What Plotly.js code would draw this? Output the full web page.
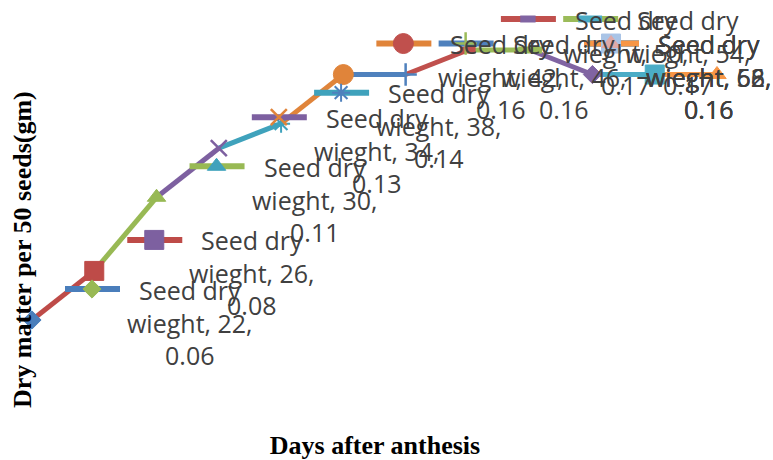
<!DOCTYPE html>
<html><head><meta charset="utf-8">
<script src="https://cdn.plot.ly/plotly-3.0.1.min.js"></script>
<style>html,body{margin:0;padding:0;background:#fff}#chart{width:773px;height:460px}</style>
</head><body><div id="chart"></div>
<script>
// ---- data ----
const days = [22, 26, 30, 34, 38, 42, 46, 50, 54, 58, 62, 66];
const dryWeight = [0.06, 0.08, 0.11, 0.13, 0.14, 0.16, 0.16, 0.17, 0.17, 0.16, 0.16, 0.16];
const seriesName = 'Seed dry wieght';
const xTitle = 'Days after anthesis';
const yTitle = 'Dry matter per 50 seeds(gm)';

// ---- styles ----
const pointColors = ['#4A7EBB','#BE4B48','#98B954','#7D60A0','#3FA2BC','#E0843A',
                     '#4F81BD','#C0504D','#9BBB59','#8064A2','#4BACC6','#F79646',
                     '#A9C4E6','#DDA9A8'];
const markerSymbols = ['diamond','square','triangle-up','x-thin-open','asterisk-open','circle','cross-thin-open','line-ew-open','line-ew-open'];
const markerSizes = [14, 19, 16, 16, 15, 20, 16, 11, 17];
const markerLineW = [1, 1, 1, 2.5, 2, 1, 2.5, 7, 7];

const FW = 773, FH = 460, M = {l:0, r:23, t:0, b:30};
const W = FW - M.l - M.r, H = FH - M.t - M.b;
const xRange = [19.9445, 19.9445 + W / 15.568];
const yRange = [0.015184, 0.19037];
const pxPerDay = W / (xRange[1] - xRange[0]);
const pxPerUnit = H / (yRange[1] - yRange[0]);

const labelFont = {family: '"Open Sans", sans-serif', size: 25, color: '#404040'};
const titleFont = {family: '"Liberation Serif", "Times New Roman", serif', size: 26, color: '#000'};

const n = days.length;
const traces = [];

// line segments, each coloured like the point it leads to
for (let i = 1; i < n; i++) {
  traces.push({
    x: [days[i-1], days[i]], y: [dryWeight[i-1], dryWeight[i]],
    type: 'scatter', mode: 'lines', hoverinfo: 'skip', showlegend: false,
    line: {color: pointColors[i], width: 5}
  });
}
// point markers
traces.push({
  x: days, y: dryWeight, type: 'scatter', mode: 'markers', name: seriesName,
  showlegend: false, cliponaxis: false,
  marker: {
    opacity: 1,
    symbol: days.map((d, i) => markerSymbols[i % 9]),
    size: days.map((d, i) => markerSizes[i % 9]),
    color: days.map((d, i) => pointColors[i]),
    line: {color: days.map((d, i) => pointColors[i]), width: days.map((d, i) => markerLineW[i % 9])}
  }
});

// data labels with legend keys
const annotations = [];
const keyMx = [], keyMy = [];
for (let i = 0; i < n; i++) {
  const xp = (days[i] - xRange[0]) * pxPerDay;
  const center = Math.min(xp + 158, 709);
  const shift = center - xp;
  annotations.push({
    x: days[i], y: dryWeight[i], xref: 'x', yref: 'y',
    text: 'Seed dry<br>wieght, ' + days[i] + ',<br>' + dryWeight[i].toFixed(2),
    showarrow: false, xanchor: 'center', yanchor: 'middle',
    xshift: shift, yshift: -2, align: 'center', font: labelFont
  });
  const ky = dryWeight[i] + 31 / pxPerUnit;
  traces.push({
    x: [days[i] + (shift - 125) / pxPerDay, days[i] + (shift - 70) / pxPerDay],
    y: [ky, ky], type: 'scatter', mode: 'lines', hoverinfo: 'skip', showlegend: false,
    cliponaxis: false, line: {color: pointColors[i], width: 6}
  });
  keyMx.push(days[i] + (shift - 98) / pxPerDay);
  keyMy.push(ky);
}
traces.push({
  x: keyMx, y: keyMy, type: 'scatter', mode: 'markers', hoverinfo: 'skip',
  showlegend: false, cliponaxis: false,
  marker: {
    opacity: 1,
    symbol: keyMx.map((d, i) => markerSymbols[i % 9]),
    size: keyMx.map((d, i) => markerSizes[i % 9]),
    color: keyMx.map((d, i) => pointColors[i + 2]),
    line: {color: keyMx.map((d, i) => pointColors[i + 2]), width: keyMx.map((d, i) => markerLineW[i % 9])}
  }
});

annotations.push({
  text: '<b>' + yTitle + '</b>', textangle: -90, showarrow: false,
  xref: 'paper', yref: 'paper', x: 22 / W, y: 1 - 250 / H,
  xanchor: 'center', yanchor: 'middle', font: titleFont
});

const layout = {
  width: FW, height: FH, margin: M,
  paper_bgcolor: '#fff', plot_bgcolor: '#fff', showlegend: false,
  xaxis: {range: xRange, showgrid: false, zeroline: false, showline: false,
          showticklabels: false, ticks: '', fixedrange: true,
          title: {text: '<b>' + xTitle + '</b>', font: titleFont, standoff: 7}},
  yaxis: {range: yRange, showgrid: false, zeroline: false, showline: false,
          showticklabels: false, ticks: '', fixedrange: true},
  annotations: annotations
};
Plotly.newPlot('chart', traces, layout, {displayModeBar: false, staticPlot: true});
</script></body></html>
